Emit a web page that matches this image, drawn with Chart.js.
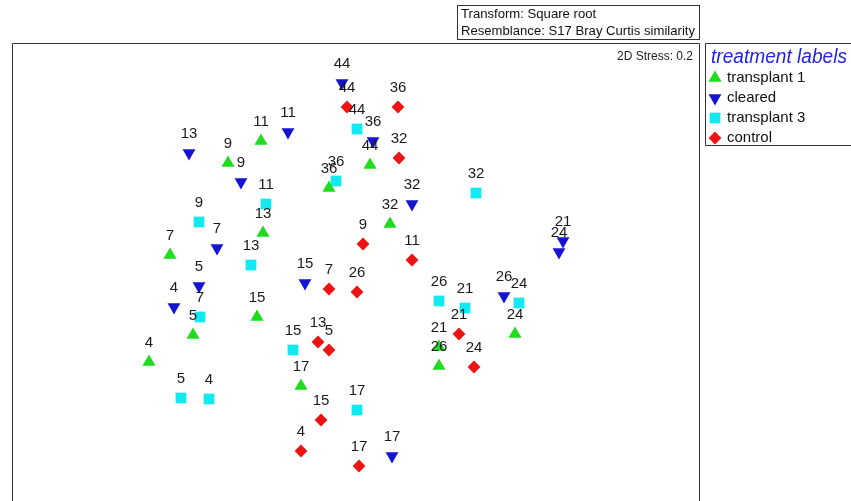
<!DOCTYPE html>
<html>
<head>
<meta charset="utf-8">
<title>MDS</title>
<script src="https://cdn.jsdelivr.net/npm/chart.js@4"></script>
<style>
  body { margin: 0; background: #fff; overflow: hidden; }
  canvas { display: block; }
</style>
</head>
<body>
<canvas id="mds" width="851" height="501"></canvas>
<script>
// sample labels, same order for every treatment
var samples = [4, 5, 7, 9, 11, 13, 15, 17, 21, 24, 26, 32, 36, 44];

var t1X = [-2.06, -1.62, -1.85, -1.27, -0.94, -0.92, -0.98, -0.54, 0.84, 1.60, 0.84, 0.35, -0.26, 0.15];
var t1Y = [-0.90, -0.63, 0.17, 1.09, 1.31, 0.39, -0.45, -1.14, -0.75, -0.62, -0.94, 0.48, 0.84, 1.07];

var clX = [-1.81, -1.56, -1.38, -1.14, -0.67, -1.66, -0.50, 0.37, 2.08, 2.04, 1.49, 0.57, 0.18, -0.13];
var clY = [-0.35, -0.14, 0.24, 0.90, 1.40, 1.19, -0.11, -1.84, 0.31, 0.20, -0.24, 0.68, 1.31, 1.89];

var t3X = [-1.46, -1.74, -1.55, -1.56, -0.89, -1.04, -0.62, 0.02, 1.10, 1.64, 0.84, 1.21, -0.19, 0.02];
var t3Y = [-1.27, -1.26, -0.45, 0.50, 0.68, 0.07, -0.78, -1.38, -0.36, -0.31, -0.29, 0.79, 0.91, 1.43];

var coX = [-0.54, -0.26, -0.26, 0.08, 0.57, -0.37, -0.34, 0.04, 1.04, 1.19, 0.02, 0.44, 0.43, -0.08];
var coY = [-1.79, -0.78, -0.17, 0.28, 0.12, -0.70, -1.48, -1.94, -0.62, -0.95, -0.20, 1.14, 1.65, 1.65];

var groups = ["transplant 1", "cleared", "transplant 3", "control"];
var groupColors = ["#1fdc1f", "#1414d2", "#12eaf2", "#ee1212"];
var groupStyles = ["triangle", "triangle", "rect", "rectRot"];
var groupRotation = [0, 180, 0, 0];
var groupRadius = [7.6, 7.4, 7.6, 6.4];

function pts(xs, ys) {
  return xs.map(function (x, i) { return { x: x, y: ys[i], s: samples[i] }; });
}
var series = [pts(t1X, t1Y), pts(clX, clY), pts(t3X, t3Y), pts(coX, coY)];

var font = "'Liberation Sans', Arial, sans-serif";

// frame, header box, stress text and the symbol legend
var decor = {
  id: "decor",
  beforeDatasetsDraw: function (chart) {
    var ctx = chart.ctx, a = chart.chartArea;
    ctx.save();
    ctx.strokeStyle = "#333";
    ctx.lineWidth = 1;
    ctx.beginPath();
    ctx.moveTo(a.left + 0.5, 501);
    ctx.lineTo(a.left + 0.5, a.top + 0.5);
    ctx.lineTo(a.right + 0.5, a.top + 0.5);
    ctx.lineTo(a.right + 0.5, 501);
    ctx.stroke();

    // transform / resemblance box
    ctx.strokeRect(457.5, 5.5, 242, 34);
    ctx.fillStyle = "#111";
    ctx.font = "13px " + font;
    ctx.textBaseline = "middle";
    ctx.textAlign = "left";
    var l2 = "Resemblance: S17 Bray Curtis similarity";
    var k = 234 / ctx.measureText(l2).width;
    ctx.save();
    ctx.translate(461, 0);
    ctx.scale(k, 1);
    ctx.fillText("Transform: Square root", 0, 14);
    ctx.fillText(l2, 0, 31);
    ctx.restore();

    ctx.font = "12px " + font;
    ctx.textAlign = "right";
    ctx.fillStyle = "#222";
    ctx.fillText("2D Stress: 0.2", 693, 57);

    // legend
    ctx.beginPath();
    ctx.moveTo(851, 43.5);
    ctx.lineTo(705.5, 43.5);
    ctx.lineTo(705.5, 145.5);
    ctx.lineTo(851, 145.5);
    ctx.stroke();
    ctx.textAlign = "left";
    ctx.fillStyle = "#2222e6";
    ctx.font = "italic 20px " + font;
    ctx.fillText("treatment labels", 711, 57, 136);
    ctx.font = "15px " + font;
    groups.forEach(function (g, i) {
      var y = 78 + i * 20;
      ctx.fillStyle = groupColors[i];
      Chart.helpers.drawPoint(ctx, {
        pointStyle: groupStyles[i],
        rotation: groupRotation[i],
        radius: groupRadius[i],
        borderWidth: 0
      }, 715, y);
      ctx.fillStyle = "#111";
      ctx.fillText(g, 727, y);
    });
    ctx.restore();
  },
  afterDatasetsDraw: function (chart) {
    var ctx = chart.ctx;
    ctx.save();
    ctx.fillStyle = "#1a1a1a";
    ctx.font = "15px " + font;
    ctx.textAlign = "center";
    ctx.textBaseline = "middle";
    chart.data.datasets.forEach(function (ds, di) {
      chart.getDatasetMeta(di).data.forEach(function (el, i) {
        ctx.fillText(String(ds.data[i].s), el.x, el.y - 19);
      });
    });
    ctx.restore();
  }
};

new Chart(document.getElementById("mds"), {
  type: "scatter",
  data: {
    datasets: groups.map(function (g, i) {
      return {
        label: g,
        data: series[i],
        pointStyle: groupStyles[i],
        rotation: groupRotation[i],
        pointRadius: groupRadius[i],
        backgroundColor: groupColors[i],
        borderWidth: 0
      };
    })
  },
  options: {
    responsive: false,
    animation: false,
    layout: { autoPadding: false, padding: { left: 12, top: 43, right: 152, bottom: 0 } },
    scales: {
      x: { type: "linear", min: -3.43, max: 3.44, display: false },
      y: { type: "linear", min: -2.29, max: 2.29, display: false }
    },
    plugins: {
      legend: { display: false },
      tooltip: { enabled: false }
    }
  },
  plugins: [decor]
});
</script>
</body>
</html>
